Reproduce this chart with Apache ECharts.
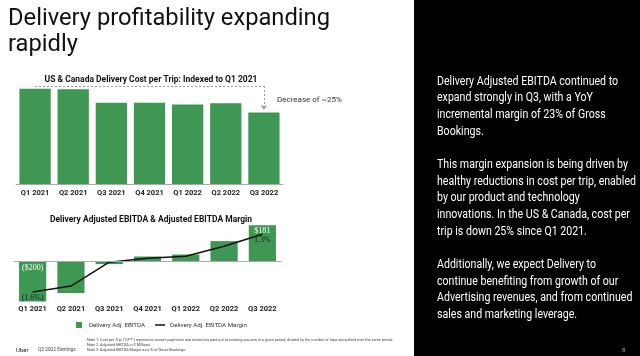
<!DOCTYPE html>
<html><head><meta charset="utf-8">
<script src="https://cdn.jsdelivr.net/npm/echarts@6/dist/echarts.min.js"></script>
<style>html,body{margin:0;padding:0;background:#fff}#c{width:640px;height:356px}</style>
</head><body><div id="c"></div>
<script>
const categories = ['Q1 2021','Q2 2021','Q3 2021','Q4 2021','Q1 2022','Q2 2022','Q3 2022'];
const costIndex = [100, 99.4, 85.3, 85.3, 83.6, 84.7, 75.2];
const ebitda = [-200, -158, -13, 25, 35, 102, 181];
const ebitdaLabels = ['($200)', '', '', '', '', '', '$181'];
const margin = [-1.6, -1.3, -0.1, 0.1, 0.2, 0.7, 1.3];
const marginLabels = ['(1.6%)', '', '', '', '', '', '1.3%'];
const titleLines = ['Delivery profitability expanding', 'rapidly'];
const rightLines = ['Delivery Adjusted EBITDA continued to','expand strongly in Q3, with a YoY','incremental margin of 23% of Gross','Bookings.','','This margin expansion is being driven by','healthy reductions in cost per trip, enabled','by our product and technology','innovations. In the US & Canada, cost per','trip is down 25% since Q1 2021.','','Additionally, we expect Delivery to','continue benefiting from growth of our','Advertising revenues, and from continued','sales and marketing leverage.'];
const notes = 'Note 1: Cost per Trip ("CPT") represents courier payments and incentives paid out to existing couriers in a given period, divided by the number of trips completed over the same period.\nNote 2: Adjusted EBITDA in $ Millions.\nNote 3: Adjusted EBITDA Margin as a % of Gross Bookings.';

const GREEN = '#3e9752';
const cv = document.createElement('canvas').getContext('2d');
function measure(text, font){ cv.font = font; return cv.measureText(text).width; }
const titleFont = '24px Roboto';
const titleScale = 322 / measure(titleLines[0], titleFont);
const rightFont = '12px Roboto';
const rightScale = 199 / measure(rightLines[6], rightFont);

const chart = echarts.init(document.getElementById('c'), null, {renderer:'canvas'});
const axisLabel = {fontSize: 7.5, fontWeight: 'bold', color: '#222', fontFamily: 'Roboto', interval: 0};
chart.setOption({
  animation: false,
  graphic: [
    {type:'rect', shape:{x:414, y:0, width:226, height:356}, style:{fill:'#000'}, z:-1},
    {type:'text', x:8, y:5.5, scaleX:titleScale, style:{text:titleLines.join('\n'), font:titleFont, fill:'#111', lineHeight:26.5, verticalAlign:'top'}},
    {type:'text', x:437, y:73.5, scaleX:rightScale, style:{text:rightLines.join('\n'), font:rightFont, fill:'#fff', lineHeight:16.64, verticalAlign:'top'}}
  ],
  title: [
    {text:'US & Canada Delivery Cost per Trip: Indexed to Q1 2021', left:146, textAlign:'center', top:70, textStyle:{fontSize:8.5, fontWeight:'bold', color:'#111', fontFamily:'Roboto'}},
    {text:'Delivery Adjusted EBITDA & Adjusted EBITDA Margin', left:146, textAlign:'center', top:210, textStyle:{fontSize:8.5, fontWeight:'bold', color:'#111', fontFamily:'Roboto'}},
    {text:'Decrease of ~25%', left:272, top:91, textStyle:{fontSize:8, fontWeight:'normal', color:'#333', fontFamily:'Roboto'}},
    {text:'Uber', left:11, top:342, textStyle:{fontSize:6, fontWeight:'normal', color:'#222', fontFamily:'Roboto'}},
    {text:'Q3 2022 Earnings', left:33, top:342.5, textStyle:{fontSize:4.8, fontWeight:'normal', color:'#444', fontFamily:'Roboto'}},
    {text:notes, left:82, top:333, textStyle:{fontSize:3.8, fontWeight:'normal', color:'#444', lineHeight:5, fontFamily:'Roboto'}},
    {text:'8', left:617, top:342, textStyle:{fontSize:6, fontWeight:'normal', color:'#aaa', fontFamily:'Roboto'}}
  ],
  legend: {
    left: 71, top: 317, itemWidth: 10, itemHeight: 6, itemGap: 10,
    textStyle: {fontSize: 6.2, color: '#333', fontFamily: 'Roboto'},
    data: [{name:'Delivery Adj. EBITDA', icon:'path://M0,0L6,0L6,6L0,6Z'},
           {name:'Delivery Adj. EBITDA Margin', icon:'path://M0,0L10,0L10,1.5L0,1.5Z'}]
  },
  grid: [
    {left:16, right:640-283, top:84, bottom:356-184},
    {left:13.5, right:640-281.5, top:221.5, bottom:356-301.5}
  ],
  xAxis: [
    {type:'category', gridIndex:0, data:categories, axisTick:{show:false},
     axisLine:{lineStyle:{color:'#aaa', width:1}}, axisLabel:Object.assign({margin:5}, axisLabel)},
    {type:'category', gridIndex:1, data:categories, axisTick:{show:false},
     axisLine:{show:false, onZero:false}, axisLabel:Object.assign({margin:4}, axisLabel)}
  ],
  yAxis: [
    {type:'value', gridIndex:0, min:0, max:105, show:false},
    {type:'value', gridIndex:1, min:-200, max:200, show:false},
    {type:'value', gridIndex:1, min:-2.075, max:1.945, show:false}
  ],
  series: [
    {type:'bar', xAxisIndex:0, yAxisIndex:0, data:costIndex, barCategoryGap:'18%',
     itemStyle:{color:GREEN}, silent:true,
     markLine:{silent:true, symbol:['none','none'], label:{show:false},
       lineStyle:{color:'#999', type:[2,2], width:1},
       data:[
         [{coord:[0,102.8], symbol:'none'}, {coord:[6,102.8], symbol:'none'}],
         [{coord:[6,102.8], symbol:'none'}, {coord:[6,77.6], symbol:'arrow', symbolSize:[5,5]}]
       ]}},
    {name:'Delivery Adj. EBITDA', type:'bar', xAxisIndex:1, yAxisIndex:1, barCategoryGap:'29%',
     itemStyle:{color:GREEN},
     data: ebitda.map((v,i)=>({value:v, label:{show: ebitdaLabels[i] !== '', formatter: ebitdaLabels[i]}})),
     label:{position:'insideTop', distance:2, color:'#fff', fontSize:8, fontFamily:'Liberation Serif'},
     markLine:{silent:true, symbol:['none','none'], label:{show:false},
       lineStyle:{color:'#aaa', type:'solid', width:1}, data:[{yAxis:0}]}},
    {name:'Delivery Adj. EBITDA Margin', type:'line', xAxisIndex:1, yAxisIndex:2,
     symbol:'circle', symbolSize:0.1, showSymbol:true, lineStyle:{color:'#111', width:1.5}, itemStyle:{color:'#111'},
     data: margin.map((v,i)=>({value:v, label:{show: marginLabels[i] !== '', formatter: marginLabels[i]}})),
     label:{position:'bottom', distance:2, color:'#222', fontSize:8, fontFamily:'Liberation Serif'}}
  ]
});
</script></body></html>
